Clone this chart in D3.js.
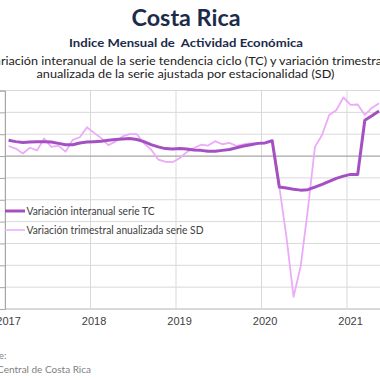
<!DOCTYPE html>
<html>
<head>
<meta charset="utf-8">
<script src="https://cdn.jsdelivr.net/npm/d3@7"></script>
<style>
  html, body { margin: 0; padding: 0; background: #fff; }
  svg { display: block; }
</style>
</head>
<body>
<svg id="chart" width="380" height="380"></svg>
<script>
// ---- data ----
const months = [];
for (let yr = 2017; yr <= 2021; yr++) for (let m = 1; m <= 12; m++) months.push(yr + "-" + String(m).padStart(2, "0"));
const tc = [3.6, 3.3, 3.1, 3.2, 3.3, 3.3, 3.2, 2.9, 2.6, 2.6, 3.0, 3.2,
            3.3, 3.4, 3.6, 3.8, 3.9, 4.0, 3.8, 3.3, 2.6, 2.1, 1.7, 1.6,
            1.7, 1.6, 1.4, 1.3, 1.1, 1.1, 1.3, 1.5, 1.9, 2.3, 2.6, 2.9,
            3.0, 3.5, -7.1, -7.3, -7.6, -7.8, -7.7, -7.1, -6.5, -5.8, -5.1, -4.6,
            -4.2, -4.2, 8.2, 9.2, 10.3];
const sd = [2.3, 1.7, 0.6, 1.9, 1.3, 4.0, 2.1, 2.4, 1.0, 3.7, 4.3, 6.6,
            5.3, 4.1, 2.5, 3.3, 4.5, 5.0, 5.0, 2.9, 1.5, -0.8, -1.3, -1.4,
            -0.5, 0.9, 1.8, 2.6, 2.4, 3.4, 2.7, 3.0, 2.3, 2.7, 2.9, 2.9,
            3.0, 3.5, -7.0, -18.5, -32.2, -25.2, -12.3, 2.1, 4.8, 9.4, 10.5, 13.4,
            11.7, 11.8, 9.4, 11.0, 12.1];
const years = ["2017", "2018", "2019", "2020", "2021"];
const yTicks = [-35, -30, -25, -20, -15, -10, -5, 0, 5, 10, 15];
const title = "Costa Rica";
const subtitle = "Indice Mensual de  Actividad Económica";
const desc1 = "Variación interanual de la serie tendencia ciclo (TC) y variación trimestral";
const desc2 = "anualizada de la serie ajustada por estacionalidad (SD)";
const seriesNames = ["Variación interanual serie TC", "Variación trimestral anualizada serie SD"];
const source1 = "Fuente:";
const source2 = "Banco Central de Costa Rica";

// ---- layout ----
const svg = d3.select("#chart");
const pLeft = 5, pTop = 90.5, pBottom = 309;
const x = d3.scaleLinear().domain([0, 60]).range([pLeft, pLeft + 7.125 * 60]);
const y = d3.scaleLinear().domain([-35, 15]).range([pBottom, pTop]);
const navy = "#1c2b4a";
const cTC = "#a450c2", cSD = "#ecaafb";

// titles
svg.append("text").attr("x", 186).attr("y", 26).attr("text-anchor", "middle")
  .attr("font-family", "Lato, 'Liberation Sans', sans-serif").attr("font-weight", "bold")
  .attr("font-size", 22).attr("fill", navy).attr("textLength", 109).attr("lengthAdjust", "spacingAndGlyphs")
  .text(title);
svg.append("text").attr("x", 186).attr("y", 46.5).attr("text-anchor", "middle")
  .style("white-space", "pre")
  .attr("font-family", "Lato, 'Liberation Sans', sans-serif").attr("font-weight", "bold")
  .attr("font-size", 11.5).attr("fill", navy).attr("textLength", 234).attr("lengthAdjust", "spacingAndGlyphs")
  .text(subtitle);
svg.append("text").attr("x", 186).attr("y", 65).attr("text-anchor", "middle")
  .attr("font-family", "Lato, 'Liberation Sans', sans-serif")
  .attr("font-size", 11.5).attr("fill", "#222").attr("textLength", 398).attr("lengthAdjust", "spacingAndGlyphs")
  .text(desc1);
svg.append("text").attr("x", 185.5).attr("y", 77.5).attr("text-anchor", "middle")
  .attr("font-family", "Lato, 'Liberation Sans', sans-serif")
  .attr("font-size", 11.5).attr("fill", "#222").attr("textLength", 298).attr("lengthAdjust", "spacingAndGlyphs")
  .text(desc2);

// grid
const g = svg.append("g");
g.selectAll(".hg").data(yTicks.filter(v => v !== 0 && v !== -35)).enter().append("line")
  .attr("x1", pLeft).attr("x2", 380).attr("y1", d => y(d)).attr("y2", d => y(d))
  .attr("stroke", "#d9d9d9").attr("stroke-width", 1);
g.selectAll(".vg").data(years).enter().append("line")
  .attr("x1", (d, i) => x(i * 12)).attr("x2", (d, i) => x(i * 12))
  .attr("y1", pTop).attr("y2", pBottom)
  .attr("stroke", "#d9d9d9").attr("stroke-width", 1);
g.append("line").attr("x1", pLeft).attr("x2", 380).attr("y1", y(0)).attr("y2", y(0))
  .attr("stroke", "#a6a6a6").attr("stroke-width", 1.2);
g.append("line").attr("x1", pLeft).attr("x2", 380).attr("y1", y(-35)).attr("y2", y(-35))
  .attr("stroke", "#d9d9d9").attr("stroke-width", 2);
const ya = d3.axisLeft(y).tickValues(yTicks).tickSize(5).tickFormat("");
svg.append("g").attr("transform", `translate(${pLeft},0)`).call(ya)
  .call(s => s.selectAll("line,path").attr("stroke", "#a6a6a6"));

// x labels
svg.selectAll(".xl").data(years).enter().append("text")
  .attr("x", (d, i) => x(i * 12 + 0.5)).attr("y", 325).attr("text-anchor", "middle")
  .attr("font-family", "'Liberation Sans', Arial, sans-serif").attr("font-size", 11).attr("fill", "#404040")
  .text(d => d);

// lines
const line = d3.line().x((d, i) => x(i + 0.5)).y(d => y(d));
svg.append("path").datum(sd).attr("d", line).attr("fill", "none")
  .attr("stroke", cSD).attr("stroke-width", 1.8).attr("stroke-linejoin", "round");
svg.append("path").datum(tc).attr("d", line).attr("fill", "none")
  .attr("stroke", cTC).attr("stroke-width", 3).attr("stroke-linejoin", "round");

// legend
const leg = [{ n: seriesNames[0], c: cTC, w: 3, yy: 211, tl: 128 }, { n: seriesNames[1], c: cSD, w: 1.5, yy: 230, tl: 177 }];
leg.forEach(l => {
  svg.append("line").attr("x1", 5).attr("x2", 25).attr("y1", l.yy).attr("y2", l.yy)
    .attr("stroke", l.c).attr("stroke-width", l.w);
  svg.append("text").attr("x", 26.5).attr("y", l.yy + 3.8)
    .attr("font-family", "Lato, 'Liberation Sans', sans-serif").attr("font-size", 11).attr("fill", "#404040")
    .attr("textLength", l.tl).attr("lengthAdjust", "spacingAndGlyphs")
    .text(l.n);
});

// source
svg.append("text").attr("x", 6.5).attr("y", 359).attr("text-anchor", "end")
  .attr("font-family", "Lato, 'Liberation Sans', sans-serif").attr("font-size", 10).attr("fill", "#7f7f7f")
  .text(source1);
svg.append("text").attr("x", 91).attr("y", 373).attr("text-anchor", "end")
  .attr("font-family", "Lato, 'Liberation Sans', sans-serif").attr("font-size", 10).attr("fill", "#7f7f7f")
  .text(source2);
</script>
</body>
</html>
